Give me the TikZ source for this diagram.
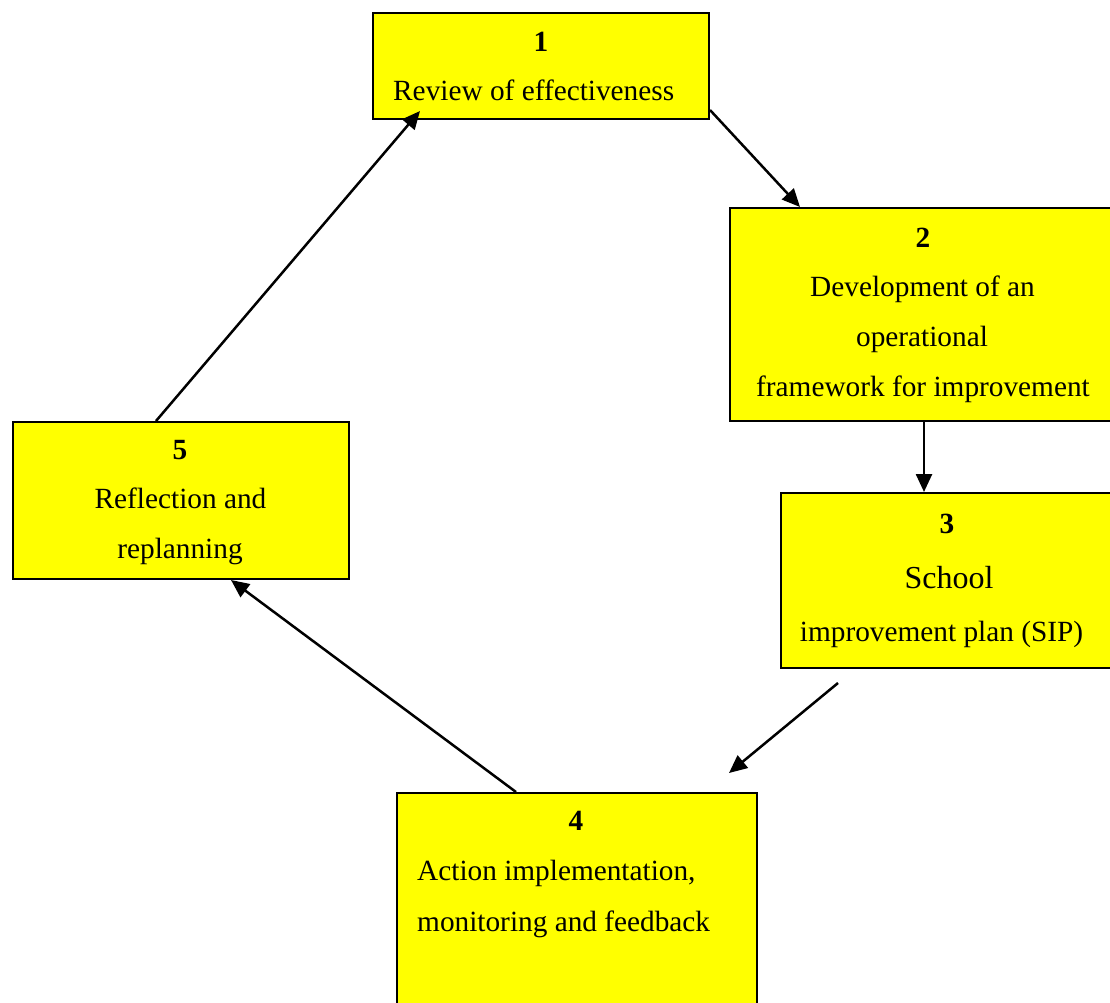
\documentclass[tikz,border=0pt]{standalone}
\usepackage{fontspec}
\setmainfont{Liberation Serif}
\usetikzlibrary{arrows.meta}
\definecolor{boxyellow}{RGB}{255,255,0}
\tikzset{
  box/.style={draw=black, line width=2pt, fill=boxyellow, inner sep=0pt, anchor=north west},
  txt/.style={anchor=base, inner sep=0pt, font=\fontsize{29.3}{35}\selectfont},
  txtl/.style={txt, anchor=base west},
  num/.style={anchor=base, inner sep=0pt, font=\fontsize{29.3}{35}\selectfont\bfseries},
  conn/.style={line width=2.5pt, -{Triangle[length=18pt,width=16pt]}}
}
\begin{document}
\begin{tikzpicture}[x=1pt,y=-1pt]
\useasboundingbox (0,0) rectangle (1110,1002);
\clip (0,0) rectangle (1110,1002);
\fill[white] (0,0) rectangle (1110,1002);
% boxes
\node[box, minimum width=336pt, minimum height=106pt] (b1) at (372,12) {};
\node[box, minimum width=383pt, minimum height=213pt] (b2) at (729,207) {};
\node[box, minimum width=332pt, minimum height=175pt] (b3) at (780,492) {};
\node[box, minimum width=360pt, minimum height=230pt] (b4) at (396,792) {};
\node[box, minimum width=336pt, minimum height=157pt] (b5) at (12,421) {};
% texts
\node[num] (n1) at (541,51) {1};
\node[txtl] (t1) at (393,100) {Review of effectiveness};
\node[num] (n2) at (923,247) {2};
\node[txt] (t2a) at (922.5,296) {Development of an};
\node[txt] (t2b) at (922,346) {operational};
\node[txt] (t2c) at (923,396) {framework for improvement};
\node[num] (n3) at (947,533) {3};
\node[anchor=base, inner sep=0pt, font=\fontsize{32}{38}\selectfont] (t3a) at (949,588) {School};
\node[txt] (t3b) at (941.5,641) {improvement plan (SIP)};
\node[num] (n4) at (576,830) {4};
\node[txtl] (t4a) at (417,880) {Action implementation,};
\node[txtl] (t4b) at (417,931) {monitoring and feedback};
\node[num] (n5) at (180,459) {5};
\node[txt] (t5a) at (180.5,508) {Reflection and};
\node[txt] (t5b) at (180,558) {replanning};
% connectors
\draw[conn] ([yshift=10pt]b1.south east) -- ([xshift=71pt]b2.north west);
\draw[conn] ([xshift=195pt]b2.south west) -- ([xshift=144pt]b3.north west);
\coordinate (s34) at (838,683);
\coordinate (e34) at (729,773);
\draw[conn] (s34) -- (e34);
\draw[conn] ([xshift=120pt]b4.north west) -- ([xshift=219pt]b5.south west);
\draw[conn] ([xshift=144pt]b5.north west) -- ([xshift=48pt,yshift=9pt]b1.south west);
\end{tikzpicture}
\end{document}
